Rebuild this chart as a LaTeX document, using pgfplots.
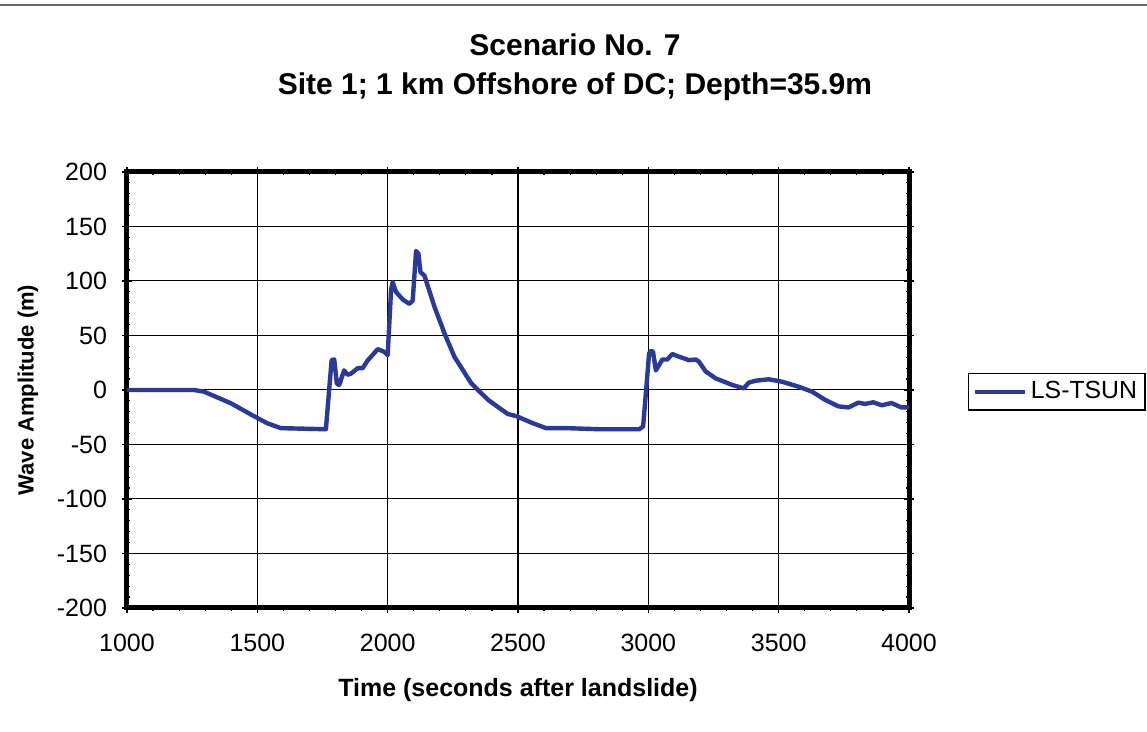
\documentclass[border=0pt]{standalone}
\usepackage{fontspec}
\setmainfont{Liberation Sans}
\usepackage{pgfplots}
\pgfplotsset{compat=1.18}
\definecolor{lsblue}{RGB}{42,58,150}
\begin{document}
\begin{tikzpicture}[x=1pt,y=1pt]
\useasboundingbox (0,0) rectangle (573.5,366);
\draw[line width=1pt, color=black!60] (0,363.5) -- (573.5,363.5);
\node[font=\fontsize{15}{18}\selectfont\bfseries] at (287.5,343.5) {Scenario No. 7};
\node[font=\fontsize{15}{18}\selectfont\bfseries] at (287.5,322.5) {Site 1; 1 km Offshore of DC; Depth=35.9m};
\begin{axis}[
  at={(63.5pt,62pt)}, anchor=south west,
  scale only axis, width=391pt, height=218pt,
  xmin=1000, xmax=4000, ymin=-200, ymax=200,
  xtick={1000,1500,...,4000}, ytick={-200,-150,...,200},
  minor x tick num=4, minor y tick num=4,
  grid=major, major grid style={black, line width=0.5pt},
  axis line style={line width=2.5pt},
  tick style={black, line width=0.6pt},
  tick align=center, major tick length=5pt, minor tick length=3pt,
  /pgf/number format/assume math mode=true,
  /pgf/number format/1000 sep={},
  tick label style={font=\fontsize{12.5}{14}\selectfont},
  xticklabel style={yshift=-7pt},
  yticklabel style={xshift=-4pt},
  xlabel={Time (seconds after landslide)},
  ylabel={Wave Amplitude (m)},
  xlabel style={font=\fontsize{12.5}{15}\selectfont\bfseries, at={(axis description cs:0.5,-0.188)}, anchor=center},
  ylabel style={font=\fontsize{11}{13}\selectfont\bfseries, at={(axis description cs:-0.1266,0.5)}, anchor=center},
  legend style={at={(axis description cs:1.0754,0.539)}, anchor=north west, draw=black, line width=0.6pt, font=\fontsize{12.4}{14}\selectfont, inner sep=2pt},
  legend cell align=left,
  legend image code/.code={\draw[#1, line width=2.2pt] (0pt,0pt) -- (25pt,0pt);},
]
\addplot[lsblue, line width=2.2pt, line join=round] coordinates {
(1000,0) (1256,0) (1295,-1.5) (1397,-12) (1487,-24) (1538,-30.5) (1590,-35)
(1763,-36) (1785,27.4) (1795,28) (1805,6) (1814,4.6) (1833,18) (1846,14)
(1859,15) (1885,20) (1904,20) (1923,27) (1962,37.5) (1987,35) (2000,32)
(2013,91.5) (2019,99) (2032,90) (2058,83) (2083,79) (2096,82) (2109,127.5)
(2118,125) (2126,108) (2141,105) (2180,76) (2218,52) (2256,30.5) (2321,6)
(2385,-9) (2430,-16.8) (2461,-22) (2494,-24) (2513,-26) (2557,-30.5) (2608,-35)
(2685,-35) (2812,-36) (2965,-36) (2980,-33.5) (3003,33.5) (3010,36) (3018,35)
(3029,18) (3054,28) (3073,28) (3092,33) (3118,30.5) (3156,27.4) (3182,28)
(3194,26) (3220,17) (3258,10.7) (3322,4.6) (3366,1.5) (3385,6.7) (3411,8.5)
(3462,9.8) (3513,7.6) (3577,3) (3628,-1.5) (3678,-9) (3729,-15) (3768,-16)
(3806,-11.6) (3831,-12.8) (3863,-11.3) (3895,-14) (3933,-12) (3971,-16) (4000,-16)
};
\addlegendentry{LS-TSUN}
\end{axis}
\end{tikzpicture}
\end{document}
